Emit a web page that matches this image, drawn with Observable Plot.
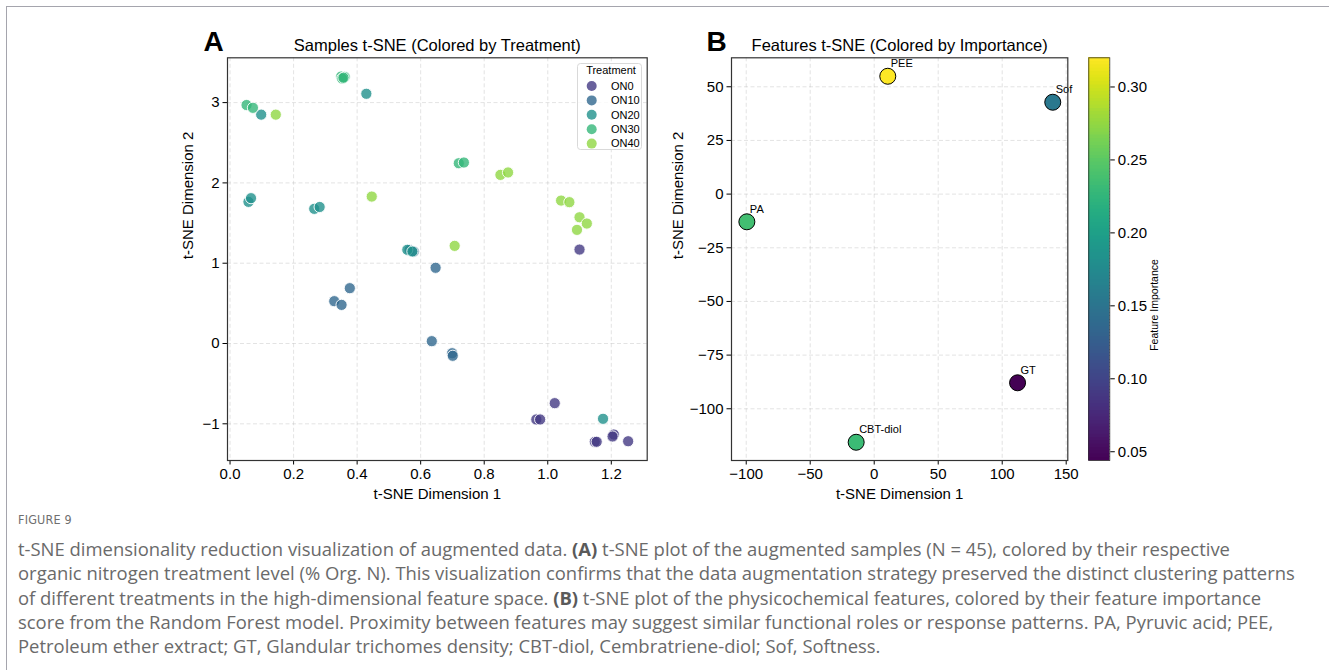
<!DOCTYPE html>
<html><head><meta charset="utf-8">
<script src="https://cdn.jsdelivr.net/npm/d3@7"></script>
<script src="https://cdn.jsdelivr.net/npm/@observablehq/plot@0.6"></script>
<style>
body{margin:0;background:#fff;}
#fig{position:relative;width:1329px;height:670px;overflow:hidden;font-family:"Liberation Sans",Arial,sans-serif;background:#fff;}
.abs{position:absolute;}
#fig svg{overflow:visible;}
.capline{white-space:nowrap;color:#6a6a6a;font-family:"Open Sans","Noto Sans",sans-serif;}
.capline b{color:#5a5a5a;}
</style></head><body><div id="fig"></div>
<script>
// ---------- Data ----------
const treatments = ["ON0", "ON10", "ON20", "ON30", "ON40"];

const sampleTreatment = [
  "ON0","ON0","ON0","ON0","ON0","ON0","ON0","ON0","ON0",
  "ON10","ON10","ON10","ON10","ON10","ON10","ON10","ON10","ON10",
  "ON20","ON20","ON20","ON20","ON20","ON20","ON20","ON20","ON20",
  "ON30","ON30","ON30","ON30","ON30","ON30","ON30","ON30",
  "ON40","ON40","ON40","ON40","ON40","ON40","ON40","ON40","ON40","ON40"
];
const sampleX = [
  1.100, 1.022, 0.964, 0.976, 1.148, 1.154, 1.208, 1.204, 1.253,
  0.647, 0.377, 0.328, 0.351, 0.635, 0.699, 0.701, 0.565, 0.578,
  0.098, 0.429, 0.058, 0.066, 0.265, 0.282, 1.174, 0.558, 0.574,
  0.052, 0.072, 0.350, 0.361, 0.353, 0.357, 0.720, 0.736,
  0.144, 0.446, 0.707, 0.851, 0.875, 1.042, 1.068, 1.100, 1.123, 1.092
];
const sampleY = [
  1.170, -0.743, -0.946, -0.946, -1.224, -1.224, -1.133, -1.158, -1.217,
  0.943, 0.689, 0.527, 0.481, 0.029, -0.121, -0.153, 1.165, 1.145,
  2.850, 3.110, 1.764, 1.810, 1.677, 1.700, -0.938, 1.167, 1.146,
  2.970, 2.935, 3.325, 3.320, 3.300, 3.310, 2.245, 2.254,
  2.850, 1.830, 1.216, 2.100, 2.130, 1.780, 1.760, 1.572, 1.494, 1.415
];

const featureNames = ["PA", "PEE", "GT", "CBT-diol", "Sof"];
const featureX = [-99.5, 10.6, 112.0, -14.1, 139.5];
const featureY = [-12.9, 54.9, -87.9, -115.6, 42.8];
const featureImportance = [0.236, 0.320, 0.044, 0.232, 0.155];

const xTicksA = [0.0, 0.2, 0.4, 0.6, 0.8, 1.0, 1.2];
const yTicksA = [-1, 0, 1, 2, 3];
const xTicksB = [-100, -50, 0, 50, 100, 150];
const yTicksB = [-100, -75, -50, -25, 0, 25, 50];
const cbarTicks = [0.05, 0.10, 0.15, 0.20, 0.25, 0.30];

const titleA = "Samples t-SNE (Colored by Treatment)";
const titleB = "Features t-SNE (Colored by Importance)";
const xLabel = "t-SNE Dimension 1";
const yLabel = "t-SNE Dimension 2";
const legendTitle = "Treatment";
const cbarLabel = "Feature Importance";

const figureLabel = "FIGURE 9";
const captionLines = [
  "t-SNE dimensionality reduction visualization of augmented data. <b>(A)</b> t-SNE plot of the augmented samples (N = 45), colored by their respective",
  "organic nitrogen treatment level (% Org. N). This visualization confirms that the data augmentation strategy preserved the distinct clustering patterns",
  "of different treatments in the high-dimensional feature space. <b>(B)</b> t-SNE plot of the physicochemical features, colored by their feature importance",
  "score from the Random Forest model. Proximity between features may suggest similar functional roles or response patterns. PA, Pyruvic acid; PEE,",
  "Petroleum ether extract; GT, Glandular trichomes density; CBT-diol, Cembratriene-diol; Sof, Softness."
];

// ---------- Build ----------
const fig = document.getElementById("fig");
const FONT = '"Liberation Sans", Arial, sans-serif';

// figure border (top + left)
const border = document.createElement("div");
border.className = "abs";
Object.assign(border.style, {left:"6px", top:"6px", right:"-2px", bottom:"-2px",
  borderTop:"1.5px solid #a5a5ad", borderLeft:"1.5px solid #a5a5ad"});
fig.appendChild(border);

const samples = sampleX.map((x, i) => ({x, y: sampleY[i], t: sampleTreatment[i]}));
const colorsA = treatments.map((d, i) => d3.interpolateViridis((i + 1) / (treatments.length + 1)));
const gridStyle = {stroke: "#b0b0b0", strokeOpacity: 0.45, strokeDasharray: "4,2.5", strokeWidth: 0.8};
const axisStyle = {tickSize: 4.5, tickPadding: 3.5, fontSize: 15, label: null};

function place(node, left, top) {
  const wrap = document.createElement("div");
  wrap.className = "abs";
  wrap.style.left = left + "px";
  wrap.style.top = top + "px";
  wrap.appendChild(node);
  fig.appendChild(wrap);
}

// Panel A
const plotA = Plot.plot({
  width: 680, height: 510,
  marginLeft: 227, marginRight: 33.3, marginTop: 57.3, marginBottom: 50,
  style: {fontFamily: FONT, fontSize: "15px", color: "#000", background: "transparent", overflow: "visible"},
  x: {domain: [-0.008, 1.313]},
  y: {domain: [-1.457, 3.558]},
  color: {domain: treatments, range: colorsA},
  marks: [
    Plot.gridX(xTicksA, gridStyle),
    Plot.gridY(yTicksA, gridStyle),
    Plot.axisX(xTicksA, {...axisStyle, tickFormat: d3.format(".1f")}),
    Plot.axisY(yTicksA, {...axisStyle, tickFormat: d3.format("d")}),
    Plot.dot(samples, {x: "x", y: "y", fill: "t", r: 5.6, fillOpacity: 0.8, stroke: "white", strokeWidth: 0.9}),
    Plot.frame({stroke: "#333", strokeWidth: 1.2}),
    Plot.text([titleA], {frameAnchor: "top", lineAnchor: "bottom", dy: -7, fontSize: 16.5}),
    Plot.text(["A"], {frameAnchor: "top-left", textAnchor: "start", lineAnchor: "bottom", dx: -24, dy: -7, fontSize: 28, fontWeight: "bold"}),
    Plot.text([xLabel], {frameAnchor: "bottom", lineAnchor: "bottom", dy: 38, fontSize: 15}),
    Plot.text([yLabel], {frameAnchor: "left", dx: -39, rotate: -90, fontSize: 15})
  ]
});
place(plotA, 0, 0);

// Legend for panel A
const lg = d3.create("svg").attr("width", 66).attr("height", 88)
  .style("font-family", FONT).style("overflow", "visible");
lg.append("rect").attr("x", 0.5).attr("y", 0.5).attr("width", 64).attr("height", 86).attr("rx", 3)
  .attr("fill", "white").attr("fill-opacity", 0.8).attr("stroke", "#d9d9d9");
lg.append("text").attr("x", 34).attr("y", 11).attr("text-anchor", "middle").attr("font-size", 11).text(legendTitle);
treatments.forEach((t, i) => {
  const cy = 23 + i * 14.4;
  lg.append("circle").attr("cx", 14.7).attr("cy", cy).attr("r", 5).attr("fill", colorsA[i]).attr("fill-opacity", 0.8);
  lg.append("text").attr("x", 34).attr("y", cy).attr("dy", "0.35em").attr("font-size", 11).text(t);
});
place(lg.node(), 577, 63);

// Panel B
const features = featureNames.map((name, i) => ({name, x: featureX[i], y: featureY[i], imp: featureImportance[i]}));
const impDomain = d3.extent(featureImportance);
const colorB = {type: "linear", scheme: "viridis", domain: impDomain};

const plotB = Plot.plot({
  width: 440, height: 510,
  marginLeft: 71, marginRight: 32.7, marginTop: 57.3, marginBottom: 50,
  style: {fontFamily: FONT, fontSize: "15px", color: "#000", background: "transparent", overflow: "visible"},
  x: {domain: [-111.5, 151.25]},
  y: {domain: [-124.1, 63.5]},
  color: colorB,
  marks: [
    Plot.gridX(xTicksB, gridStyle),
    Plot.gridY(yTicksB, gridStyle),
    Plot.axisX(xTicksB, {...axisStyle, tickFormat: d3.format("d")}),
    Plot.axisY(yTicksB, {...axisStyle, tickFormat: d3.format("d")}),
    Plot.dot(features, {x: "x", y: "y", fill: "imp", r: 8, stroke: "black", strokeWidth: 1}),
    Plot.text(features, {x: "x", y: "y", text: "name", textAnchor: "start", lineAnchor: "bottom", dx: 3, dy: -9, fontSize: 11}),
    Plot.frame({stroke: "#333", strokeWidth: 1.2}),
    Plot.text([titleB], {frameAnchor: "top", lineAnchor: "bottom", dy: -7, fontSize: 16.5}),
    Plot.text(["B"], {frameAnchor: "top-left", textAnchor: "start", lineAnchor: "bottom", dx: -25, dy: -7, fontSize: 28, fontWeight: "bold"}),
    Plot.text([xLabel], {frameAnchor: "bottom", lineAnchor: "bottom", dy: 38, fontSize: 15}),
    Plot.text([yLabel], {frameAnchor: "left", dx: -53, rotate: -90, fontSize: 15})
  ]
});
place(plotB, 660, 0);

// Colorbar
const nBins = 120;
const step = (impDomain[1] - impDomain[0]) / nBins;
const bins = d3.range(nBins).map(i => ({a: impDomain[0] + i * step, b: impDomain[0] + (i + 1) * step, m: impDomain[0] + (i + 0.5) * step}));
const cbar = Plot.plot({
  width: 110, height: 510,
  marginLeft: 8.3, marginRight: 80.7, marginTop: 57.3, marginBottom: 50,
  style: {fontFamily: FONT, fontSize: "15px", color: "#000", background: "transparent", overflow: "visible"},
  y: {domain: impDomain},
  color: colorB,
  marks: [
    Plot.rect(bins, {y1: "a", y2: "b", fill: "m", shapeRendering: "crispEdges", stroke: "m", strokeWidth: 0.5}),
    Plot.frame({stroke: "#333", strokeWidth: 0.8}),
    Plot.axisY(cbarTicks, {anchor: "right", tickSize: 4.5, tickPadding: 3.5, fontSize: 15, label: null, tickFormat: d3.format(".2f")}),
    Plot.text([cbarLabel], {frameAnchor: "right", dx: 45, rotate: -90, fontSize: 10.5})
  ]
});
place(cbar, 1080, 0);

// Caption
const figLab = document.createElement("div");
figLab.className = "abs";
figLab.textContent = figureLabel;
Object.assign(figLab.style, {left: "18px", top: "512px", fontFamily: '"Liberation Sans Narrow","DejaVu Sans Condensed",sans-serif',
  fontSize: "12.5px", color: "#6f6f6f", letterSpacing: "0.2px"});
fig.appendChild(figLab);

const cap = document.createElement("div");
cap.className = "abs";
Object.assign(cap.style, {left: "18px", top: "537px"});
fig.appendChild(cap);
const lineEls = captionLines.map(html => {
  const d = document.createElement("div");
  d.className = "capline";
  d.innerHTML = html;
  Object.assign(d.style, {fontSize: "16px", lineHeight: "24.3px", display: "block", width: "max-content"});
  cap.appendChild(d);
  return d;
});
// fit the widest line to the reference width
const w2 = lineEls[1].getBoundingClientRect().width;
const fs = 16 * 1278 / w2;
lineEls.forEach(d => d.style.fontSize = fs.toFixed(2) + "px");
</script>
</body></html>
